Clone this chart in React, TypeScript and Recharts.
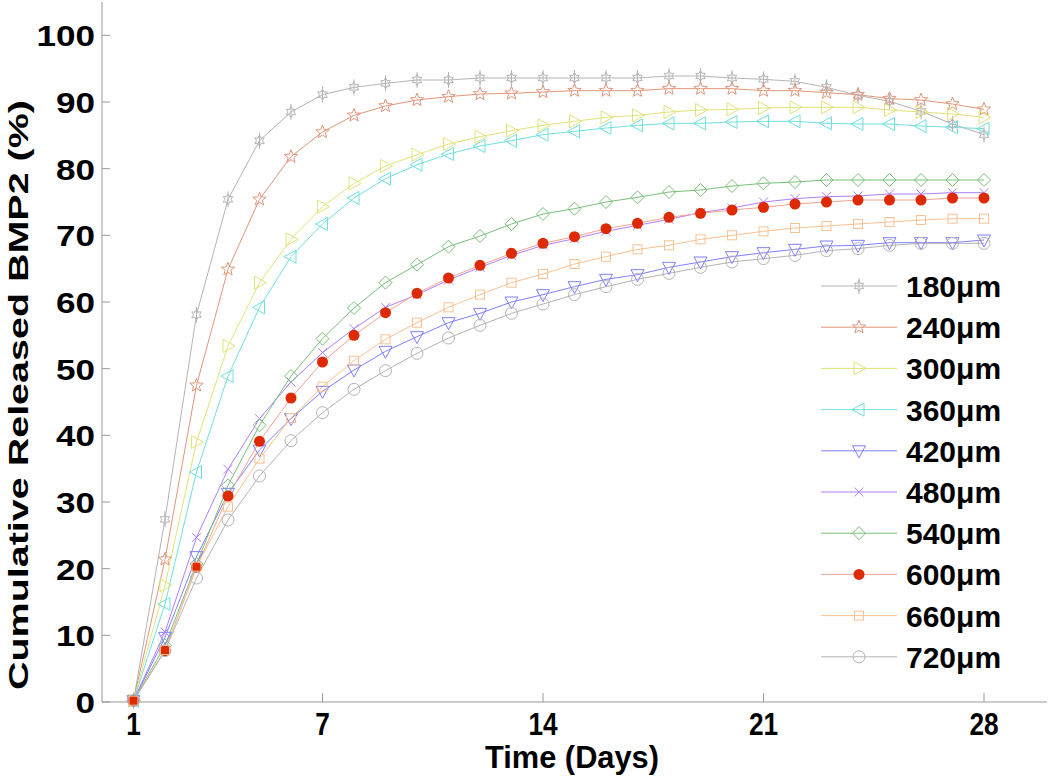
import React from 'react';
import { LineChart, Line, XAxis, YAxis, Legend } from 'recharts';

const days = [1, 2, 3, 4, 5, 6, 7, 8, 9, 10, 11, 12, 13, 14, 15, 16, 17, 18, 19, 20, 21, 22, 23, 24, 25, 26, 27, 28];

const s180 = [0.2, 27.4, 58.1, 75.4, 84.2, 88.5, 91.1, 92.2, 92.8, 93.3, 93.3, 93.6, 93.6, 93.6, 93.6, 93.6, 93.6, 93.9, 93.9, 93.6, 93.4, 93.1, 92.2, 91.0, 90.1, 88.6, 86.7, 85.1];
const s240 = [0.2, 21.4, 47.5, 64.9, 75.4, 81.8, 85.5, 88.0, 89.4, 90.3, 90.8, 91.2, 91.3, 91.5, 91.7, 91.7, 91.7, 92.0, 92.0, 92.0, 91.7, 91.7, 91.4, 91.1, 90.5, 90.3, 89.7, 88.9];
const s300 = [0.2, 17.5, 39.0, 53.4, 62.9, 69.4, 74.3, 77.8, 80.4, 82.1, 83.7, 84.8, 85.7, 86.5, 87.1, 87.7, 88.0, 88.5, 88.8, 88.9, 89.1, 89.2, 89.2, 89.2, 88.8, 88.5, 88.2, 87.7];
const s360 = [0.2, 14.7, 34.5, 48.9, 59.2, 66.8, 71.7, 75.6, 78.5, 80.6, 82.2, 83.4, 84.2, 85.1, 85.6, 86.1, 86.5, 86.8, 86.8, 87.0, 87.1, 87.1, 86.8, 86.7, 86.7, 86.4, 86.2, 86.0];
const s420 = [0.2, 9.7, 21.8, 31.3, 37.8, 42.5, 46.6, 49.8, 52.6, 54.8, 56.9, 58.3, 60.0, 61.1, 62.3, 63.4, 64.1, 65.2, 66.0, 66.8, 67.4, 67.9, 68.4, 68.5, 68.9, 68.9, 68.9, 69.3];
const s480 = [0.2, 10.5, 24.7, 34.9, 42.5, 48.0, 52.4, 56.0, 59.2, 61.1, 63.3, 65.2, 67.0, 68.5, 69.5, 70.6, 71.5, 72.4, 73.4, 74.1, 75.0, 75.5, 75.8, 75.9, 76.2, 76.2, 76.4, 76.4];
const s540 = [0.2, 8.5, 20.7, 32.5, 41.5, 48.9, 54.5, 59.1, 62.9, 65.6, 68.3, 69.9, 71.7, 73.2, 74.0, 75.0, 75.7, 76.5, 76.8, 77.4, 77.8, 78.0, 78.3, 78.3, 78.3, 78.3, 78.3, 78.3];
const s600 = [0.2, 7.7, 20.2, 30.9, 39.1, 45.6, 51.0, 55.0, 58.4, 61.3, 63.6, 65.5, 67.3, 68.8, 69.8, 71.0, 71.8, 72.7, 73.3, 73.8, 74.2, 74.7, 75.0, 75.3, 75.3, 75.3, 75.6, 75.6];
const s660 = [0.2, 7.8, 20.3, 29.3, 36.5, 42.6, 47.3, 51.2, 54.4, 56.9, 59.2, 61.1, 62.9, 64.2, 65.7, 66.8, 67.9, 68.5, 69.4, 70.0, 70.6, 71.1, 71.4, 71.7, 72.0, 72.3, 72.5, 72.5];
const s720 = [0.2, 7.7, 18.6, 27.3, 33.9, 39.2, 43.4, 46.9, 49.7, 52.3, 54.6, 56.5, 58.3, 59.7, 61.1, 62.3, 63.4, 64.3, 65.2, 66.0, 66.5, 67.0, 67.7, 68.0, 68.5, 68.8, 68.8, 68.8];

const xTicks = [1, 7, 14, 21, 28];
const yTicks = [0, 10, 20, 30, 40, 50, 60, 70, 80, 90, 100];

const series = [
  { key: 's180', name: '180\u03bcm', values: s180, color: '#b4b4b4', shape: 'hexagram' },
  { key: 's240', name: '240\u03bcm', values: s240, color: '#e0967a', shape: 'pentagram' },
  { key: 's300', name: '300\u03bcm', values: s300, color: '#e2e27a', shape: 'right' },
  { key: 's360', name: '360\u03bcm', values: s360, color: '#6fe0e0', shape: 'left' },
  { key: 's420', name: '420\u03bcm', values: s420, color: '#8080ff', shape: 'down' },
  { key: 's480', name: '480\u03bcm', values: s480, color: '#b080ff', shape: 'x' },
  { key: 's540', name: '540\u03bcm', values: s540, color: '#78c078', shape: 'diamond' },
  { key: 's600', name: '600\u03bcm', values: s600, color: '#f4a494', shape: 'dot' },
  { key: 's660', name: '660\u03bcm', values: s660, color: '#f8c292', shape: 'square' },
  { key: 's720', name: '720\u03bcm', values: s720, color: '#b4b4b4', shape: 'circle' },
];

const data = days.map((d, i) => {
  const row = { day: d };
  series.forEach((s) => { row[s.key] = s.values[i]; });
  return row;
});

const AXIS = '#999999';
const FONT = '"Liberation Sans", Arial, sans-serif';

function starPoints(cx, cy, n, ro, ri) {
  const pts = [];
  for (let k = 0; k < n * 2; k++) {
    const r = k % 2 === 0 ? ro : ri;
    const a = -Math.PI / 2 + (k * Math.PI) / n;
    pts.push(`${cx + r * Math.cos(a)},${cy + r * Math.sin(a)}`);
  }
  return pts.join(' ');
}

function Marker({ shape, cx, cy, color }) {
  const p = { fill: 'none', stroke: color, strokeWidth: 1 };
  switch (shape) {
    case 'hexagram':
      return (<g>
        <polygon points={starPoints(cx, cy, 6, 5.5, 3)} {...p}/>
        <line x1={cx} y1={cy - 8} x2={cx} y2={cy + 8} stroke={color}/>
      </g>);
    case 'pentagram':
      return <polygon points={starPoints(cx, cy, 5, 7, 3)} {...p}/>;
    case 'right':
      return <polygon points={`${cx + 7},${cy} ${cx - 5},${cy - 6.5} ${cx - 5},${cy + 6.5}`} {...p}/>;
    case 'left':
      return <polygon points={`${cx - 7},${cy} ${cx + 5},${cy - 6.5} ${cx + 5},${cy + 6.5}`} {...p}/>;
    case 'down':
      return <polygon points={`${cx - 6.5},${cy - 5} ${cx + 6.5},${cy - 5} ${cx},${cy + 7}`} {...p}/>;
    case 'x':
      return (<g>
        <line x1={cx - 4.5} y1={cy - 4.5} x2={cx + 4.5} y2={cy + 4.5} stroke={color}/>
        <line x1={cx - 4.5} y1={cy + 4.5} x2={cx + 4.5} y2={cy - 4.5} stroke={color}/>
      </g>);
    case 'diamond':
      return <polygon points={`${cx},${cy - 6.5} ${cx + 6.5},${cy} ${cx},${cy + 6.5} ${cx - 6.5},${cy}`} {...p}/>;
    case 'dot':
      return <circle cx={cx} cy={cy} r={5.5} fill="#dd2a00" stroke="none"/>;
    case 'square':
      return <rect x={cx - 4.5} y={cy - 4.5} width={9} height={9} {...p}/>;
    default:
      return <circle cx={cx} cy={cy} r={6} {...p}/>;
  }
}

function makeDot(s) {
  return (props) => {
    const { cx, cy, index } = props;
    if (cx == null || cy == null) return <g key={index}/>;
    return <g key={`${s.key}-${index}`}><Marker shape={s.shape} cx={cx} cy={cy} color={s.color}/></g>;
  };
}

function XTick({ x, y, payload }) {
  return (<text x={x} y={y + 33} textAnchor="middle" fontFamily={FONT} fontWeight="bold" fontSize={32} fill="#000" transform={`translate(${x},0) scale(0.82,1) translate(${-x},0)`}>
      {payload.value}
    </text>);
}

function YTick({ x, y, payload }) {
  const label = String(payload.value);
  return (<text x={x - 7} y={y + 11} textAnchor="end" fontFamily={FONT} fontWeight="bold" fontSize={30} fill="#000" textLength={19.5 * label.length} lengthAdjust="spacingAndGlyphs">
      {label}
    </text>);
}

function renderLegend() {
  return (<svg width={235} height={420} style={{ display: 'block' }}>
      {series.map((s, i) => {
        const cy = 21 + 41.2 * i;
        return (<g key={s.key}>
            <line x1={6} y1={cy} x2={82} y2={cy} stroke={s.color} strokeWidth={1}/>
            <Marker shape={s.shape} cx={44} cy={cy} color={s.color}/>
            <text x={91} y={cy + 11} fontFamily={FONT} fontWeight="bold" fontSize={30} fill="#000">{s.name}</text>
          </g>);
      })}
    </svg>);
}

export default function App() {
  return (<div style={{ position: 'absolute', left: 0, top: 0, background: '#fff' }}>
      <LineChart width={1050} height={779} data={data} margin={{ top: 2, right: 3, bottom: 0, left: 0 }}>
        <XAxis dataKey="day" type="number" domain={[0, 30]} ticks={xTicks} height={77} stroke={AXIS} tickSize={-9} tickMargin={9} tick={XTick} interval={0} allowDecimals={false} label={() => (<text x={572} y={768} textAnchor="middle" fontFamily={FONT} fontWeight="bold" fontSize={32} textLength={174} lengthAdjust="spacingAndGlyphs" fill="#000">Time (Days)</text>)}/>
        <YAxis type="number" domain={[0, 105]} ticks={yTicks} width={102} stroke={AXIS} tickSize={-8} tickMargin={8} tick={YTick} interval={0} label={() => (<text x={0} y={0} transform="translate(28,395) rotate(-90)" textAnchor="middle" fontFamily={FONT} fontWeight="bold" fontSize={28} textLength={590} lengthAdjust="spacingAndGlyphs" fill="#000">Cumulative Released BMP2 (%)</text>)}/>
        {series.map((s) => (<Line key={s.key} type="linear" dataKey={s.key} name={s.name} stroke={s.color} strokeWidth={1} dot={makeDot(s)} activeDot={false} isAnimationActive={false}/>))}
        <Legend layout="horizontal" verticalAlign="middle" align="center" content={renderLegend} wrapperStyle={{ position: 'absolute', left: 815, top: 265, width: 235, height: 420 }}/>
      </LineChart>
    </div>);
}
